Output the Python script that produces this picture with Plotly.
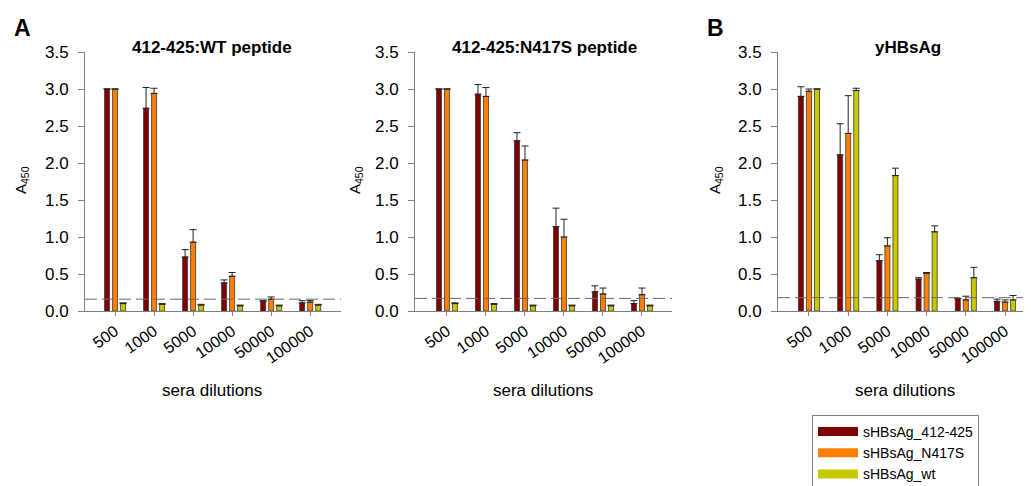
import plotly.graph_objects as go

W, H = 1031, 486
OFF = 8  # page body margin offset

dilutions = ["500", "1000", "5000", "10000", "50000", "100000"]
series_names = ["sHBsAg_412-425", "sHBsAg_N417S", "sHBsAg_wt"]
series_colors = ["#800000", "#FF8000", "#C8C800"]
panel_titles = ["412-425:WT peptide", "412-425:N417S peptide", "yHBsAg"]

# Panel A1: 412-425:WT peptide
wt_412 = [3.00, 2.74, 0.73, 0.38, 0.13, 0.11]
wt_412_err = [0.00, 0.28, 0.10, 0.04, 0.01, 0.03]
wt_n417s = [3.00, 2.94, 0.93, 0.47, 0.16, 0.12]
wt_n417s_err = [0.00, 0.07, 0.17, 0.05, 0.03, 0.02]
wt_wt = [0.10, 0.09, 0.08, 0.07, 0.07, 0.08]
wt_wt_err = [0.01, 0.01, 0.01, 0.01, 0.01, 0.01]

# Panel A2: 412-425:N417S peptide
n417s_412 = [3.00, 2.93, 2.30, 1.14, 0.26, 0.10]
n417s_412_err = [0.00, 0.13, 0.11, 0.25, 0.08, 0.04]
n417s_n417s = [3.00, 2.90, 2.04, 1.00, 0.23, 0.22]
n417s_n417s_err = [0.00, 0.12, 0.19, 0.24, 0.08, 0.09]
n417s_wt = [0.10, 0.09, 0.07, 0.07, 0.07, 0.07]
n417s_wt_err = [0.01, 0.01, 0.01, 0.01, 0.01, 0.01]

# Panel B: yHBsAg
yhbs_412 = [2.90, 2.11, 0.68, 0.43, 0.17, 0.13]
yhbs_412_err = [0.13, 0.42, 0.08, 0.02, 0.00, 0.03]
yhbs_n417s = [2.97, 2.40, 0.88, 0.51, 0.15, 0.12]
yhbs_n417s_err = [0.03, 0.51, 0.11, 0.01, 0.05, 0.03]
yhbs_wt = [3.00, 2.98, 1.83, 1.07, 0.45, 0.15]
yhbs_wt_err = [0.00, 0.03, 0.10, 0.08, 0.14, 0.06]

cutoffs = [0.16, 0.17, 0.18]

panels = [
    [(wt_412, wt_412_err), (wt_n417s, wt_n417s_err), (wt_wt, wt_wt_err)],
    [(n417s_412, n417s_412_err), (n417s_n417s, n417s_n417s_err), (n417s_wt, n417s_wt_err)],
    [(yhbs_412, yhbs_412_err), (yhbs_n417s, yhbs_n417s_err), (yhbs_wt, yhbs_wt_err)],
]

FONT = "Liberation Sans, Arial, sans-serif"
AXIS_COL = "#808080"


def fx(px):
    return (px - OFF) / W


def fy(py):
    return 1 - (py - OFF) / H


# pixel layout (screen coordinates)
x_domains_px = [(85, 341), (415, 672), (778, 1027)]
x_ranges = [[-0.77, 5.79], [-0.82, 5.77], [-0.79, 5.56]]
y_top_px, y_bot_px = 52, 311

fig = go.Figure()

for p, series in enumerate(panels):
    xa = "x" if p == 0 else f"x{p+1}"
    ya = "y" if p == 0 else f"y{p+1}"
    for s, (vals, errs) in enumerate(series):
        fig.add_trace(go.Bar(
            x=dilutions, y=vals, name=series_names[s],
            showlegend=False,
            offsetgroup=str(s),
            marker=dict(color=series_colors[s], line=dict(color="#3a3a3a", width=0.8)),
            error_y=dict(type="data", symmetric=False, array=errs,
                         arrayminus=[0] * len(errs), color="#222222",
                         thickness=1, width=3.5),
            xaxis=xa, yaxis=ya,
        ))

# legend entries (swatches)
for s in range(3):
    fig.add_trace(go.Scatter(
        x=[None], y=[None], mode="lines", name=series_names[s],
        line=dict(color=series_colors[s], width=9),
        xaxis="x3", yaxis="y3",
    ))

layout = dict(
    width=W, height=H,
    margin=dict(l=0, r=0, t=0, b=0, autoexpand=False),
    paper_bgcolor="white", plot_bgcolor="white",
    barmode="group", bargap=0.385, bargroupgap=0.375,
    font=dict(family=FONT, color="black"),
    showlegend=True,
    legend=dict(
        x=fx(812), y=fy(415), xanchor="left", yanchor="top",
        bgcolor="white", bordercolor="#808080", borderwidth=1,
        font=dict(size=14, family=FONT, color="black"),
        itemwidth=40, tracegroupgap=0,
    ),
)

ydom = [fy(y_bot_px), fy(y_top_px)]
for p in range(3):
    xk = "xaxis" if p == 0 else f"xaxis{p+1}"
    yk = "yaxis" if p == 0 else f"yaxis{p+1}"
    x0, x1 = x_domains_px[p]
    layout[xk] = dict(
        domain=[fx(x0), fx(x1)], type="category", range=x_ranges[p],
        anchor="y" if p == 0 else f"y{p+1}",
        showline=True, linecolor=AXIS_COL, linewidth=1,
        ticks="outside", ticklen=4, tickcolor=AXIS_COL,
        tickangle=-35, tickfont=dict(size=16, family=FONT, color="black"),
        showgrid=False, zeroline=False, fixedrange=True,
    )
    layout[yk] = dict(
        domain=ydom, range=[0, 3.5], dtick=0.5, tick0=0, tickformat=".1f",
        anchor="x" if p == 0 else f"x{p+1}",
        showline=True, linecolor=AXIS_COL, linewidth=1,
        ticks="outside", ticklen=6, tickcolor=AXIS_COL,
        tickfont=dict(size=17, family=FONT, color="black"),
        ticklabelstandoff=6,
        showgrid=False, zeroline=False, fixedrange=True,
    )

fig.update_layout(**layout)

# cut-off dashed lines
for p in range(3):
    xr = "x" if p == 0 else f"x{p+1}"
    yr = "y" if p == 0 else f"y{p+1}"
    fig.add_shape(type="line", xref=f"{xr} domain", yref=yr,
                  x0=0, x1=1, y0=cutoffs[p], y1=cutoffs[p],
                  line=dict(color="#6a6a6a", width=1, dash="12px,5px"),
                  layer="above")


def px_ann(text, x, y, size, bold=False, angle=0, xanchor="center", yanchor="middle"):
    fig.add_annotation(
        text=f"<b>{text}</b>" if bold else text,
        xref="paper", yref="paper", x=fx(x), y=fy(y),
        xanchor=xanchor, yanchor=yanchor, showarrow=False, textangle=angle,
        font=dict(size=size, family=FONT, color="black"),
    )


title_x = [212, 544, 908]
for p in range(3):
    px_ann(panel_titles[p], title_x[p], 48, 17, bold=True)

xt_x = [212, 543, 905]
for p in range(3):
    px_ann("sera dilutions", xt_x[p], 390, 17)

yt_x = [22, 356, 716]
for p in range(3):
    px_ann("A<sub>450</sub>", yt_x[p], 180, 15, angle=-90)

px_ann("A", 22, 28, 23, bold=True)
px_ann("B", 715, 28, 23, bold=True)

fig.write_html("out.html")
